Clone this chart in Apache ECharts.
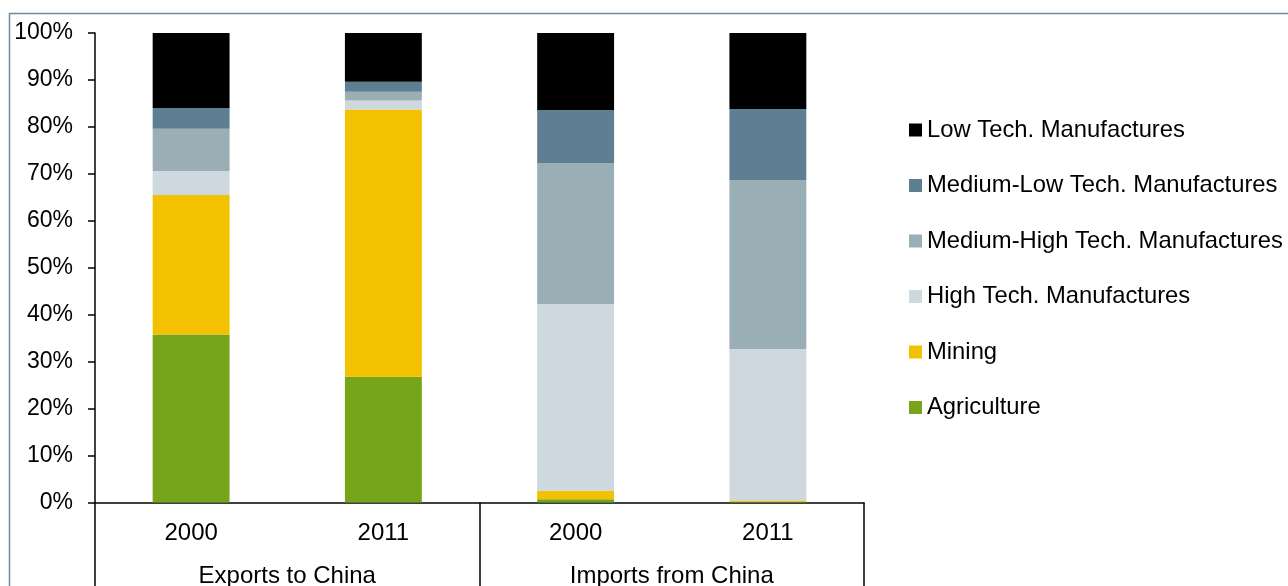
<!DOCTYPE html>
<html>
<head>
<meta charset="utf-8">
<script src="https://cdn.jsdelivr.net/npm/echarts@6/dist/echarts.min.js"></script>
<style>
  html, body { margin: 0; padding: 0; background: #fff; }
  #chart { width: 1288px; height: 586px; }
</style>
</head>
<body>
<div id="chart"></div>
<script>
// categories (inner level) and groups (outer level)
const years = ['2000', '2011', '2000', '2011']
const groups = ['Exports to China', 'Imports from China']

// shares in %, bottom to top of each column
const agriculture = [35.8, 26.8, 0.7, 0.1]
const mining = [29.7, 56.9, 1.8, 0.2]
const highTech = [5.1, 1.9, 39.8, 32.4]
const mediumHighTech = [9.0, 1.9, 30.0, 36.0]
const mediumLowTech = [4.4, 2.1, 11.3, 15.1]
const lowTech = [16.0, 10.4, 16.4, 16.2]

const yTicks = [0, 10, 20, 30, 40, 50, 60, 70, 80, 90, 100]

const font = 'Liberation Sans, Arial, sans-serif'

const seriesDefs = [
  { name: 'Agriculture', data: agriculture, color: '#77a51a' },
  { name: 'Mining', data: mining, color: '#f4c100' },
  { name: 'High Tech. Manufactures', data: highTech, color: '#cdd8df' },
  { name: 'Medium-High Tech. Manufactures', data: mediumHighTech, color: '#9aaeb6' },
  { name: 'Medium-Low Tech. Manufactures', data: mediumLowTech, color: '#5d7f91' },
  { name: 'Low Tech. Manufactures', data: lowTech, color: '#000000' }
]

const chart = echarts.init(document.getElementById('chart'), null, { renderer: 'canvas' })

chart.setOption({
  animation: false,
  textStyle: { fontFamily: font },
  graphic: [{
    type: 'rect',
    shape: { x: 9.5, y: 13.5, width: 1400, height: 700 },
    style: { fill: 'none', stroke: '#6b8ba0', lineWidth: 1.5 },
    silent: true
  }],
  legend: {
    orient: 'vertical',
    left: 904,
    top: 113,
    itemWidth: 13,
    itemHeight: 13,
    itemGap: 31.5,
    icon: 'rect',
    data: seriesDefs.map(s => s.name).reverse(),
    textStyle: { fontSize: 23.8, lineHeight: 24, color: '#000', fontFamily: font }
  },
  grid: {
    left: 95,
    right: 424,
    top: 33,
    bottom: 83.5,
    containLabel: false,
    outerBoundsMode: 'none'
  },
  xAxis: [{
    type: 'category',
    data: years,
    axisLine: { show: false },
    axisTick: { show: false },
    axisLabel: { margin: 19, fontSize: 24, color: '#000', fontFamily: font }
  }, {
    type: 'category',
    data: groups,
    position: 'bottom',
    axisLine: { show: true, lineStyle: { color: '#000', width: 1.5 } },
    axisTick: { show: true, interval: 0, length: 100, lineStyle: { color: '#000', width: 1.5 } },
    axisLabel: { margin: 62, fontSize: 24, color: '#000', fontFamily: font }
  }],
  yAxis: {
    type: 'value',
    min: yTicks[0],
    max: yTicks[yTicks.length - 1],
    interval: 10,
    axisLine: { show: true, lineStyle: { color: '#000', width: 1.5 } },
    axisTick: { show: true, length: 7, lineStyle: { color: '#000', width: 1.5 } },
    splitLine: { show: false },
    axisLabel: {
      margin: 22,
      fontSize: 23,
      color: '#000',
      fontFamily: font,
      formatter: v => v + '%'
    }
  },
  series: seriesDefs.map(s => ({
    name: s.name,
    type: 'bar',
    stack: 'share',
    xAxisIndex: 0,
    barWidth: '40%',
    itemStyle: { color: s.color },
    data: s.data
  }))
})
</script>
</body>
</html>
